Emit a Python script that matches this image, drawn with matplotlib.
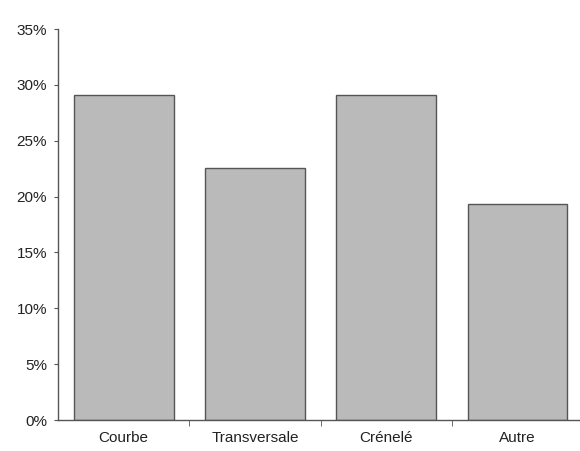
import matplotlib
matplotlib.use("Agg")
import matplotlib.pyplot as plt
from matplotlib.ticker import PercentFormatter, FixedLocator

categories = ["Courbe", "Transversale", "Crénelé", "Autre"]
values = [0.291, 0.226, 0.291, 0.193]
yticks = [0, 0.05, 0.10, 0.15, 0.20, 0.25, 0.30, 0.35]

plt.rcParams['font.family'] = ['Liberation Sans', 'DejaVu Sans']

fig = plt.figure(figsize=(5.8, 4.51), dpi=100)
ax = fig.add_axes([58/580, 31/451, 525/580, 391/451])

x = list(range(len(categories)))
ax.bar(x, values, width=0.76, color="#bababa", edgecolor="#555555", linewidth=1.0)

ax.set_xlim(-0.5, len(categories) - 0.5)
ax.set_ylim(0, 0.35)
ax.set_yticks(yticks)
ax.yaxis.set_major_formatter(PercentFormatter(1.0, decimals=0))
ax.set_xticks(x)
ax.set_xticklabels(categories)
ax.xaxis.set_minor_locator(FixedLocator([i + 0.5 for i in range(len(categories) - 1)]))
ax.tick_params(axis='x', which='major', length=0, pad=8, labelsize=11, labelcolor='#222222')
ax.tick_params(axis='x', which='minor', length=4, color='#555555', direction='out')
ax.tick_params(axis='y', length=3, color='#555555', labelsize=11, labelcolor='#222222', pad=5)

for s in ['top', 'right']:
    ax.spines[s].set_visible(False)
for s in ['left', 'bottom']:
    ax.spines[s].set_color('#555555')
    ax.spines[s].set_linewidth(1.0)

fig.savefig("out.png", dpi=100)
